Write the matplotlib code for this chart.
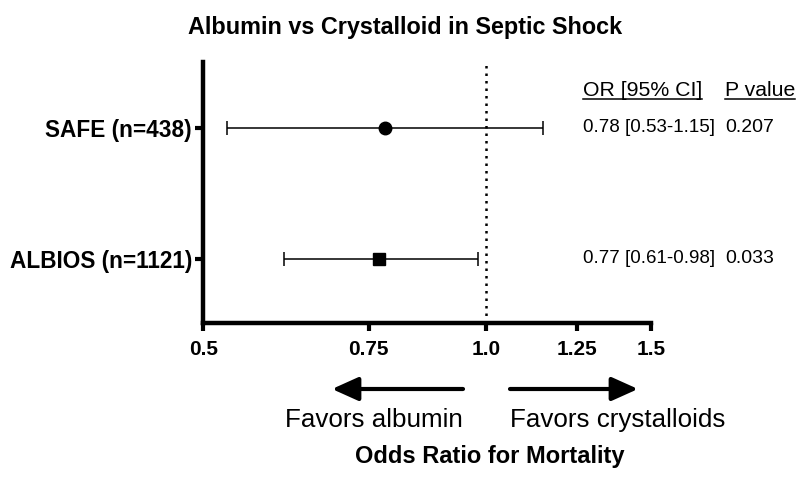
import matplotlib
matplotlib.use('Agg')
import matplotlib.pyplot as plt
from matplotlib.lines import Line2D
from matplotlib.transforms import blended_transform_factory
import numpy as np

plt.rcParams['font.family'] = ['Liberation Sans', 'DejaVu Sans']

# Data
studies = ['SAFE (n=438)', 'ALBIOS (n=1121)']
odds_ratio = [0.78, 0.77]
ci_low = [0.53, 0.61]
ci_high = [1.15, 0.98]
p_values = ['0.207', '0.033']
markers = ['o', 's']
xticks = [0.5, 0.75, 1.0, 1.25, 1.5]
xtick_labels = ['0.5', '0.75', '1.0', '1.25', '1.5']

fig = plt.figure(figsize=(8, 4.8), dpi=100)
ax = fig.add_axes([0.254, 0.327, 0.56, 0.544])

ypos = np.arange(len(studies))[::-1]  # SAFE on top

for y, orv, lo, hi, m in zip(ypos, odds_ratio, ci_low, ci_high, markers):
    ax.errorbar(orv, y, xerr=[[orv - lo], [hi - orv]], fmt='none',
                ecolor='black', elinewidth=1.1, capsize=5, capthick=1.1)
    ax.plot(orv, y, marker=m, color='black', markersize=9, linestyle='none')

ax.axvline(1.0, color='black', linestyle=(0, (1, 2)), linewidth=1.8)

ax.set_xscale('log')
ax.set_xlim(0.5, 1.5)
ax.set_ylim(-0.49, 1.5)
ax.set_xticks(xticks)
ax.set_xticklabels(xtick_labels)
ax.minorticks_off()
ax.set_yticks(ypos)
ax.set_yticklabels(studies)

for s in ['top', 'right']:
    ax.spines[s].set_visible(False)
for s in ['left', 'bottom']:
    ax.spines[s].set_linewidth(3.2)
ax.tick_params(axis='x', direction='out', length=6, width=3,
               labelsize=15, pad=6)
ax.tick_params(axis='y', direction='out', length=6, width=3,
               labelsize=16.3, pad=2)
for lbl in ax.get_xticklabels() + ax.get_yticklabels():
    lbl.set_fontweight('bold')

# Right-hand columns
tr = blended_transform_factory(fig.transFigure, ax.transData)
col_or_x = 583 / 800
col_p_x = 725 / 800
headers = []
headers.append(ax.text(col_or_x, 1.28, 'OR [95% CI]', transform=tr,
                       ha='left', va='center', fontsize=15.3, clip_on=False))
headers.append(ax.text(col_p_x, 1.28, 'P value', transform=tr,
                       ha='left', va='center', fontsize=15.3, clip_on=False))
for y, orv, lo, hi, p in zip(ypos, odds_ratio, ci_low, ci_high, p_values):
    ax.text(col_or_x, y, f'{orv:.2f} [{lo:.2f}-{hi:.2f}]', transform=tr,
            ha='left', va='center', fontsize=13.5, clip_on=False)
    ax.text(col_p_x, y, p, transform=tr,
            ha='left', va='center', fontsize=14, clip_on=False)

# underline headers
fig.canvas.draw()
renderer = fig.canvas.get_renderer()
for t in headers:
    bb = t.get_window_extent(renderer).transformed(fig.transFigure.inverted())
    fig.add_artist(Line2D([bb.x0, bb.x1], [bb.y0 + 0.002, bb.y0 + 0.002],
                          transform=fig.transFigure, color='black', lw=1.1))

# Title
fig.text(0.506, 0.942, 'Albumin vs Crystalloid in Septic Shock',
         ha='center', va='center', fontsize=16.8, fontweight='bold')

# Direction arrows
arrow_kw = dict(arrowstyle='-|>,head_length=1.6,head_width=0.72',
                color='black', lw=3, shrinkA=0, shrinkB=0)
arrow_y = 1 - 389 / 480
ax.annotate('', xy=(332 / 800, arrow_y), xytext=(463 / 800, arrow_y),
            xycoords='figure fraction', textcoords='figure fraction',
            arrowprops=arrow_kw)
ax.annotate('', xy=(638 / 800, arrow_y), xytext=(510 / 800, arrow_y),
            xycoords='figure fraction', textcoords='figure fraction',
            arrowprops=arrow_kw)
fig.text(463 / 800, 1 - 420 / 480, 'Favors albumin', ha='right', va='center',
         fontsize=18.7)
fig.text(510 / 800, 1 - 420 / 480, 'Favors crystalloids', ha='left', va='center',
         fontsize=18.7)
fig.text(490 / 800, 1 - 457 / 480, 'Odds Ratio for Mortality', ha='center',
         va='center', fontsize=17, fontweight='bold')

fig.savefig('out.png', dpi=100, facecolor='white')
